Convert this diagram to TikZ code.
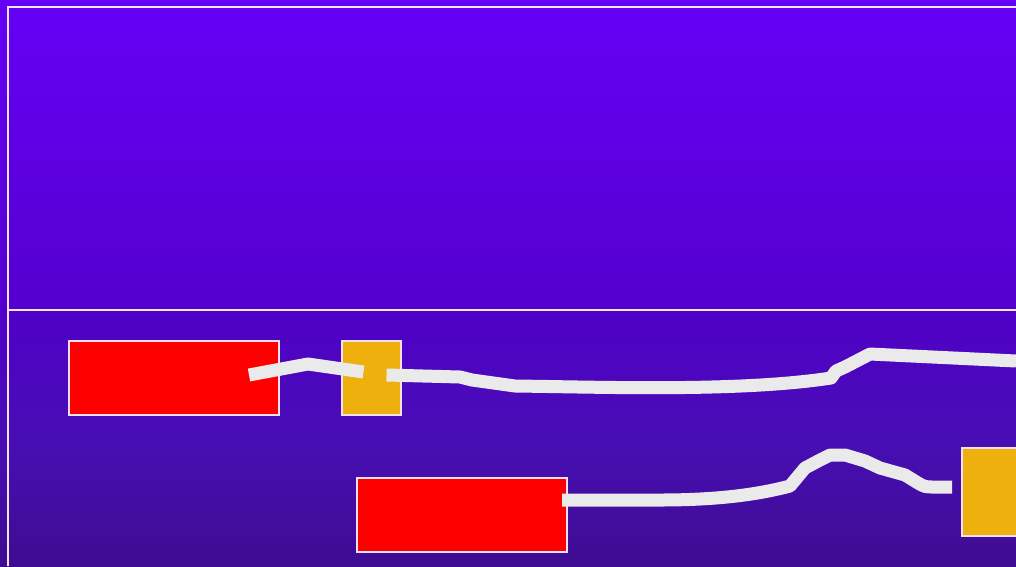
\documentclass[tikz,border=0pt]{standalone}
\begin{document}
\begin{tikzpicture}[x=1pt,y=-1pt,
  frameline/.style={draw=white!90!violet, line width=2.2pt},
  redbox/.style={draw=white!88!violet, line width=2.2pt, fill=red, minimum width=210pt, minimum height=74pt, inner sep=0pt, outer sep=0pt},
  orbox/.style={draw=white!88!violet, line width=2.2pt, fill={rgb,255:red,238;green,176;blue,13}, inner sep=0pt, outer sep=0pt},
  wire/.style={draw={rgb,255:red,234;green,234;blue,234}, line width=13pt, line join=round}]
\definecolor{topA}{RGB}{102,0,246}
\definecolor{topB}{RGB}{84,0,206}
\definecolor{botA}{RGB}{80,0,200}
\definecolor{botM}{RGB}{72,14,180}
\definecolor{botB}{RGB}{62,12,145}
\useasboundingbox (0,0) rectangle (1016,566);
\shade[top color=topA, bottom color=topB] (0,0) rectangle (1016,310);
\shade[top color=botA, bottom color=botB, middle color=botM] (0,310) rectangle (1016,566);
% frame lines
\coordinate (tl) at (8,7);
\coordinate (tr) at (1016,7);
\coordinate (bl) at (8,566);
\coordinate (ml) at (8,310);
\coordinate (mr) at (1016,310);
\draw[frameline] (tr) -- (tl) -- (bl);
\draw[frameline] (ml) -- (mr);
% boxes
\node[redbox, anchor=north west] (r1) at (69,341) {};
\node[redbox, anchor=north west] (r2) at (357,478) {};
\node[orbox, anchor=north west, minimum width=59pt, minimum height=74pt] (o1) at (342,341) {};
\node[orbox, anchor=north west, minimum width=70pt, minimum height=88pt] (o2) at (962,448) {};
% wire end points (yshift positive = up)
\coordinate (w1s) at ([xshift=-30pt,yshift=3pt]r1.east);
\coordinate (w1e) at ([xshift=-8pt,yshift=6pt]o1.center);
\coordinate (w2s) at ([xshift=15pt,yshift=3pt]o1.center);
\coordinate (w2e) at (1016,361);
\coordinate (w3s) at ([xshift=-5pt,yshift=15pt]r2.east);
\coordinate (w3e) at ([xshift=-10pt,yshift=5pt]o2.west);
\draw[wire] (w1s) -- (308,364) -- (w1e);
\draw[wire] (w2s) -- (460,377) -- (472,380) -- (515,386)
  .. controls (600,387) and (740,392) .. (831,378)
  -- (836,371) -- (845,367) -- (870,354) -- (w2e);
\draw[wire] (w3s) -- (660,500)
  .. controls (720,500) and (760,494) .. (790,486)
  -- (805,468) -- (820,460) -- (830,455) -- (845,455) -- (865,461) -- (880,468) -- (905,475) -- (918,483) .. controls (925,487) .. (935,487) -- (w3e);
\end{tikzpicture}
\end{document}
